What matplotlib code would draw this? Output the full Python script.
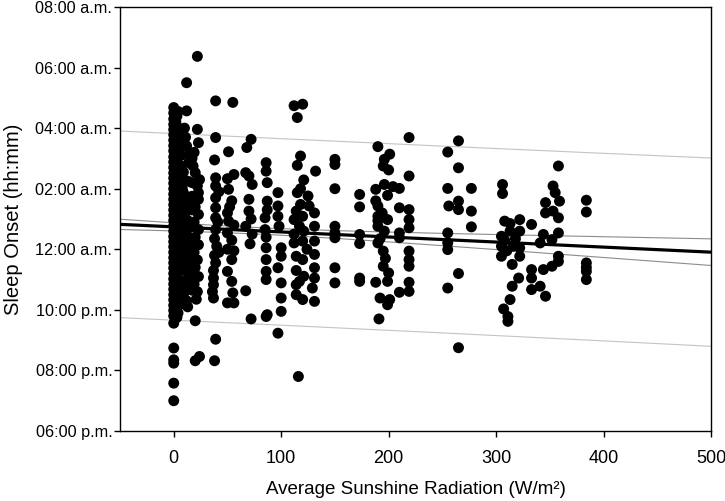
import numpy as np
import matplotlib
matplotlib.use("Agg")
import matplotlib.pyplot as plt
from matplotlib.ticker import FixedLocator, FuncFormatter

# Sleep onset expressed as clock hours on a continuous scale (24 = midnight, 26 = 02:00 a.m.)
# ---- column near 0 W/m2 (dense) ----
col0_x = [0]*46
col0_y = [28.68, 28.5, 28.3, 28.12, 27.95, 27.78, 27.6, 27.42, 27.25, 27.05, 26.88, 26.7,
          26.52, 26.35, 26.18, 26.0, 25.82, 25.65, 25.47, 25.3, 25.12, 24.95, 24.78, 24.6,
          24.42, 24.25, 24.08, 23.9, 23.72, 23.55, 23.38, 23.2, 23.02, 22.85, 22.68, 22.5,
          22.33, 22.15, 21.98, 21.8, 21.56, 20.74, 20.35, 20.24, 19.58, 19.0]
col3_x = [3]*20
col3_y = [28.4, 28.05, 27.7, 27.35, 27.0, 26.62, 26.28, 25.95, 25.6, 25.25, 24.9, 24.55,
          24.2, 23.85, 23.5, 23.15, 22.8, 22.45, 22.1, 21.75]
col1_x = [1]*10
col1_y = [26.9, 26.4, 25.8, 25.3, 24.85, 24.3, 23.75, 23.25, 22.7, 22.2]
col2_x = [2]*16
col2_y = [28.2, 27.85, 27.5, 27.15, 26.78, 26.45, 26.05, 25.7, 25.4, 25.05, 24.7, 24.35,
          23.95, 23.6, 23.05, 22.55]
col4_x = [4]*14
col4_y = [28.55, 27.55, 27.1, 26.5, 26.2, 25.85, 25.15, 24.75, 24.4, 23.7, 23.3, 22.95, 22.3, 21.9]
col5_x = [5]*11
col5_y = [27.9, 27.2, 26.6, 26.1, 25.5, 25.0, 24.6, 24.0, 23.4, 22.9, 22.4]
col7_x = [7]*14
col7_y = [27.6, 27.1, 26.75, 26.4, 25.7, 25.35, 24.9, 24.45, 24.15, 23.7, 23.3, 22.85, 22.55, 22.2]
col17_x = [17]*10
col17_y = [27.0, 26.2, 25.75, 25.3, 24.75, 24.3, 23.8, 23.3, 22.95, 22.65]

# ---- low radiation columns ----
colB = [(12, 29.5), (12, 28.57), (12, 27.41), (15, 27.14), (14, 26.86), (9, 26.55), (13, 26.25),
        (9, 25.87), (14, 25.6), (14, 25.43), (10, 25.15), (13, 24.95), (8, 24.76), (12, 24.5),
        (9, 24.3), (14, 24.1), (10, 23.85), (13, 23.6), (9, 23.4), (14, 23.15), (10, 22.95),
        (13, 22.7), (9, 22.5), (12, 22.3), (13, 22.1), (8, 26.0), (11, 27.7), (10, 28.0)]
colC = [(22, 30.37), (22, 27.96), (23, 27.52), (19, 27.2), (20, 26.53), (22, 26.09), (23, 25.87),
        (23, 25.65), (20, 25.4), (23, 25.15), (19, 24.9), (23, 24.65), (20, 24.4), (23, 24.15),
        (19, 23.9), (22, 23.65), (20, 23.4), (23, 23.1), (19, 22.85), (22, 22.6), (20, 21.64),
        (24, 20.46), (20, 20.32), (24, 26.3), (18, 26.75), (21, 22.35)]
colD = [(39, 28.9), (39, 27.69), (38, 26.95), (39, 26.36), (39, 26.09), (39, 25.7), (39, 25.37),
        (39, 25.04), (39, 24.65), (38, 24.35), (40, 24.1), (38, 23.8), (39, 23.55), (37, 23.3),
        (37, 23.05), (37, 22.83), (37, 22.39), (39, 21.03), (38, 20.32), (42, 25.9), (41, 24.9),
        (42, 23.9), (36, 22.6)]
colE = [(55, 28.85), (51, 27.22), (56, 26.47), (50, 26.33), (51, 25.98), (54, 25.6), (50, 25.2),
        (51, 24.93), (50, 24.54), (54, 24.3), (50, 24.0), (54, 23.66), (50, 23.27), (54, 22.94),
        (55, 22.56), (50, 22.23), (56, 22.23), (52, 25.4), (56, 24.8), (56, 23.95)]
colF = [(72, 27.63), (68, 27.36), (67, 26.53), (70, 26.42), (73, 26.14), (70, 25.65), (70, 25.26),
        (67, 24.76), (73, 24.5), (71, 24.18), (67, 22.63), (72, 21.7), (72, 25.0)]
colG = [(86, 26.86), (86, 26.58), (87, 26.2), (97, 25.87), (87, 25.59), (97, 25.43), (85, 25.04),
        (97, 25.09), (98, 24.76), (85, 24.65), (86, 24.05), (100, 24.05), (86, 23.66), (100, 23.77),
        (86, 23.27), (97, 23.39), (100, 22.89), (100, 22.39), (100, 21.95), (87, 21.84), (97, 21.23),
        (86, 21.78), (86, 23.0), (86, 24.4), (87, 25.3)]
colH = [(112, 28.74), (120, 28.79), (115, 28.35), (118, 27.08), (115, 26.77), (132, 26.58),
        (121, 26.29), (115, 25.87), (125, 25.76), (118, 25.48), (126, 25.43), (114, 25.26),
        (131, 25.2), (112, 24.98), (120, 25.09), (131, 24.76), (117, 24.76), (121, 24.6),
        (112, 24.21), (120, 24.27), (131, 24.27), (114, 23.77), (120, 23.66), (131, 23.83),
        (131, 23.39), (121, 23.11), (131, 23.05), (114, 22.83), (117, 22.94), (129, 22.72),
        (114, 22.5), (120, 22.34), (131, 22.28), (116, 19.8), (112, 24.5), (114, 23.3),
        (124, 24.0), (118, 26.0)]
colI = [(150, 26.97), (150, 26.8), (150, 26.0), (150, 24.76), (150, 24.54), (150, 24.38),
        (150, 23.39), (150, 22.89)]
colJ = [(173, 25.81), (173, 25.4), (173, 24.49), (173, 24.19), (173, 23.05), (173, 22.94)]
colK = [(190, 27.39), (201, 27.14), (196, 26.97), (195, 26.75), (200, 26.62), (188, 25.98),
        (196, 26.14), (204, 26.07), (199, 25.78), (190, 25.43), (190, 25.09), (199, 24.98),
        (190, 24.76), (196, 24.6), (190, 24.21), (195, 23.94), (195, 23.44), (200, 23.22),
        (188, 22.91), (199, 22.94), (192, 22.39), (201, 22.34), (199, 22.17), (191, 21.7),
        (188, 25.6), (190, 24.95), (194, 25.2), (192, 24.35), (197, 23.7)]
colL = [(210, 26.01), (210, 25.37), (210, 24.54), (210, 24.38), (210, 22.58)]
colM = [(219, 27.69), (219, 26.42), (219, 25.31), (219, 24.98), (219, 24.71), (219, 23.94),
        (219, 23.66), (219, 23.44), (219, 22.91), (219, 22.61)]
colN = [(265, 27.58), (255, 27.21), (265, 26.69), (255, 26.01), (277, 26.01), (256, 25.43),
        (265, 25.59), (265, 25.31), (277, 25.26), (277, 24.74), (255, 24.54), (255, 24.21),
        (255, 23.99), (265, 23.2), (255, 22.72), (265, 20.75)]
colO = [(306, 26.14), (306, 25.84), (322, 24.98), (308, 24.93), (313, 24.6), (322, 24.6),
        (305, 24.43), (305, 24.1), (316, 24.1), (322, 24.05), (305, 23.77), (322, 23.77),
        (315, 23.5), (321, 23.05), (315, 22.78), (313, 22.34), (307, 22.03), (311, 21.78),
        (311, 21.62), (308, 24.3), (318, 24.35), (313, 24.85), (310, 23.95)]
colP = [(333, 24.82), (344, 24.49), (341, 24.21), (333, 23.33), (344, 23.33), (333, 23.05),
        (341, 22.78), (333, 22.67), (346, 25.54), (346, 25.2), (346, 22.45)]
colQ = [(358, 26.75), (353, 26.09), (355, 25.87), (359, 25.59), (353, 25.26), (358, 25.04),
        (358, 24.54), (352, 24.32), (358, 23.77), (358, 23.6), (352, 23.44)]
colR = [(384, 25.62), (384, 25.23), (384, 23.55), (384, 23.4), (384, 23.27), (384, 23.0)]

pairs = colB + colC + colD + colE + colF + colG + colH + colI + colJ + colK + colL + colM + colN + colO + colP + colQ + colR
radiation = np.array(col0_x + col1_x + col2_x + col3_x + col4_x + col5_x + col7_x + col17_x
                     + [p[0] for p in pairs], dtype=float)
onset = np.array(col0_y + col1_y + col2_y + col3_y + col4_y + col5_y + col7_y + col17_y
                 + [p[1] for p in pairs], dtype=float)

fit_intercept = 24.74      # hours at 0 W/m2 (~00:44 a.m.)
fit_slope = -0.00167       # hours per W/m2
resid_sd = 1.57            # residual SD in hours
n_obs = 830
x_mean = 80.0
x_ss = 9.17e6
t_crit = 1.96

y_ticks = [18, 20, 22, 24, 26, 28, 30, 32]
x_ticks = [0, 100, 200, 300, 400, 500]

def clock_label(h, pos=None):
    hh = int(round(h)) % 24
    suffix = "a.m." if hh < 12 else "p.m."
    h12 = hh % 12
    if h12 == 0:
        h12 = 12
    return f"{h12:02d}:00 {suffix}"

xs = np.linspace(-50, 500, 300)
fit = fit_intercept + fit_slope * xs
conf = t_crit * resid_sd * np.sqrt(1.0 / n_obs + (xs - x_mean) ** 2 / x_ss)
pred = t_crit * resid_sd * np.sqrt(1 + 1.0 / n_obs + (xs - x_mean) ** 2 / x_ss)

plt.rcParams['font.family'] = ['Liberation Sans', 'DejaVu Sans']
fig = plt.figure(figsize=(7.25, 5.01), dpi=100)
ax = fig.add_axes([120/725, 1 - 431/501, (711-120)/725, (431-7)/501])

ax.scatter(radiation, onset, s=62, color='black', edgecolors='none', zorder=3)
ax.plot(xs, fit, color='black', lw=2.3, zorder=4)
ax.plot(xs, fit + conf, color='#8c8c8c', lw=0.8, zorder=2)
ax.plot(xs, fit - conf, color='#8c8c8c', lw=0.8, zorder=2)
ax.plot(xs, fit + pred, color='#c4c4c4', lw=0.8, zorder=2)
ax.plot(xs, fit - pred, color='#c4c4c4', lw=0.8, zorder=2)

ax.set_xlim(-50, 500)
ax.set_ylim(18, 32)
ax.xaxis.set_major_locator(FixedLocator(x_ticks))
ax.yaxis.set_major_locator(FixedLocator(y_ticks))
ax.yaxis.set_major_formatter(FuncFormatter(clock_label))
ax.tick_params(axis='both', direction='out', length=4, width=1, pad=1.5)
ax.tick_params(axis='y', labelsize=11.7)
ax.tick_params(axis='x', labelsize=13, pad=10)
ax.tick_params(top=False, right=False)
for sp in ax.spines.values():
    sp.set_linewidth(1.0)
ax.set_xlabel("Average Sunshine Radiation (W/m²)", fontsize=13.5, labelpad=10)
ax.set_ylabel("Sleep Onset (hh:mm)", fontsize=14.5, labelpad=9)

fig.savefig("out.png", dpi=100)
